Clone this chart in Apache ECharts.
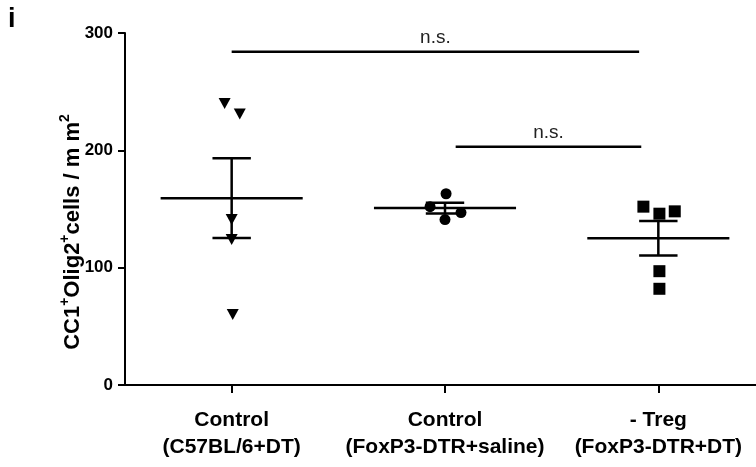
<!DOCTYPE html>
<html><head><meta charset="utf-8">
<script src="https://cdn.jsdelivr.net/npm/echarts@6/dist/echarts.min.js"></script>
<style>html,body{margin:0;padding:0;background:#fff;overflow:hidden;width:756px;height:467px}#c{width:765px;height:467px}</style>
</head><body><div id="c"></div>
<script>
// ---- data ----
const categories = ['Control\n(C57BL/6+DT)', 'Control\n(FoxP3-DTR+saline)', '- Treg\n(FoxP3-DTR+DT)'];
const yTicks = [0, 100, 200, 300];
const groupC57 = [240, 231, 141, 124, 60];
const groupSaline = [163, 152, 147, 141];
const groupTreg = [152, 146, 148, 97, 82];
// horizontal scatter jitter (category units)
const jitterC57 = [-0.033, 0.038, 0, 0, 0.005];
const jitterSaline = [0.005, -0.07, 0.075, 0];
const jitterTreg = [-0.07, 0.005, 0.077, 0.005, 0.005];
const comparisonLabels = ['n.s.', 'n.s.'];
const comparisonFrom = [0, 1.05];
const comparisonTo = [1.91, 1.92];
const comparisonY = [284, 203];

// ---- statistics ----
function mean(a){return a.reduce((s,v)=>s+v,0)/a.length;}
function sem(a){const m=mean(a);const v=a.reduce((s,x)=>s+(x-m)*(x-m),0)/(a.length-1);return Math.sqrt(v/a.length);}
const groups = [groupC57, groupSaline, groupTreg];
const jitters = [jitterC57, jitterSaline, jitterTreg];
const symbols = ['triangle', 'circle', 'rect'];
const symbolSizes = [[12, 11], 11, 12];
const rotations = [180, 0, 0];

const FONT = '"Liberation Sans", Arial, sans-serif';
const chart = echarts.init(document.getElementById('c'), null, {renderer: 'canvas'});

const scatterSeries = groups.map((g, gi) => ({
  type: 'scatter', xAxisIndex: 1, yAxisIndex: 0, z: 5,
  symbol: symbols[gi], symbolSize: symbolSizes[gi], symbolRotate: rotations[gi],
  itemStyle: {color: '#000', opacity: 1},
  data: g.map((v, i) => [gi + jitters[gi][i], v]),
  silent: true
}));

const statsData = groups.map((g, gi) => [gi, mean(g), sem(g)]);
const statsSeries = {
  type: 'custom', xAxisIndex: 1, yAxisIndex: 0, z: 3, silent: true,
  data: statsData,
  renderItem: function (params, api) {
    const x = api.value(0), m = api.value(1), s = api.value(2);
    const st = {stroke: '#000', lineWidth: 2.5};
    const p = (a, b) => api.coord([a, b]);
    const mk = (a, b) => ({type: 'line', shape: {x1: a[0], y1: a[1], x2: b[0], y2: b[1]}, style: st});
    return {type: 'group', children: [
      mk(p(x - 0.333, m), p(x + 0.333, m)),
      mk(p(x, m - s), p(x, m + s)),
      mk(p(x - 0.09, m + s), p(x + 0.09, m + s)),
      mk(p(x - 0.09, m - s), p(x + 0.09, m - s))
    ]};
  }
};

const compData = comparisonLabels.map((l, i) => [comparisonFrom[i], comparisonTo[i], comparisonY[i], l]);
const compSeries = {
  type: 'custom', xAxisIndex: 1, yAxisIndex: 0, z: 3, silent: true,
  data: compData,
  renderItem: function (params, api) {
    const a = api.coord([api.value(0), api.value(2)]);
    const b = api.coord([api.value(1), api.value(2)]);
    return {type: 'group', children: [
      {type: 'line', shape: {x1: a[0], y1: a[1], x2: b[0], y2: b[1]}, style: {stroke: '#000', lineWidth: 2.5}},
      {type: 'text', x: (a[0] + b[0]) / 2, y: a[1] - 5,
       style: {text: compData[params.dataIndex][3], fill: '#222', font: '19px ' + FONT, align: 'center', verticalAlign: 'bottom'}}
    ]};
  }
};

chart.setOption({
  animation: false,
  backgroundColor: '#fff',
  grid: {left: 125, top: 33, right: 0, bottom: 82, containLabel: false},
  xAxis: [{
    type: 'category', data: categories, boundaryGap: true,
    axisLine: {onZero: false, lineStyle: {color: '#000', width: 2}},
    axisTick: {show: true, alignWithLabel: true, interval: 0, length: 8, lineStyle: {color: '#000', width: 2}},
    axisLabel: {interval: 0, hideOverlap: false, color: '#000', fontFamily: FONT, fontWeight: 'bold', fontSize: 21, lineHeight: 27, margin: 22}
  }, {
    type: 'value', min: -0.5, max: 2.5, show: false
  }],
  yAxis: [{
    type: 'value', min: yTicks[0], max: yTicks[yTicks.length - 1], interval: 100,
    splitLine: {show: false},
    axisLine: {show: true, onZero: false, lineStyle: {color: '#000', width: 2}},
    axisTick: {show: true, length: 7, lineStyle: {color: '#000', width: 2}},
    axisLabel: {color: '#000', fontFamily: FONT, fontWeight: 'bold', fontSize: 17, margin: 12}
  }],
  graphic: [
    {type: 'text', left: 8, top: 6, style: {text: 'i', font: 'bold 27px ' + FONT, fill: '#000'}},
    {type: 'text', x: 71, y: 232, rotation: Math.PI / 2,
     style: {
       text: '{b|CC1}{s|+}{b|Olig2}{s|+}{b|cells / m m}{s|2}',
       align: 'center', verticalAlign: 'middle',
       rich: {
         b: {font: 'bold 22px ' + FONT, fill: '#000', lineHeight: 25, verticalAlign: 'bottom'},
         s: {font: 'bold 14px ' + FONT, fill: '#000', lineHeight: 25, verticalAlign: 'top'}
       }
     }}
  ],
  series: [statsSeries, compSeries].concat(scatterSeries)
});
</script></body></html>
